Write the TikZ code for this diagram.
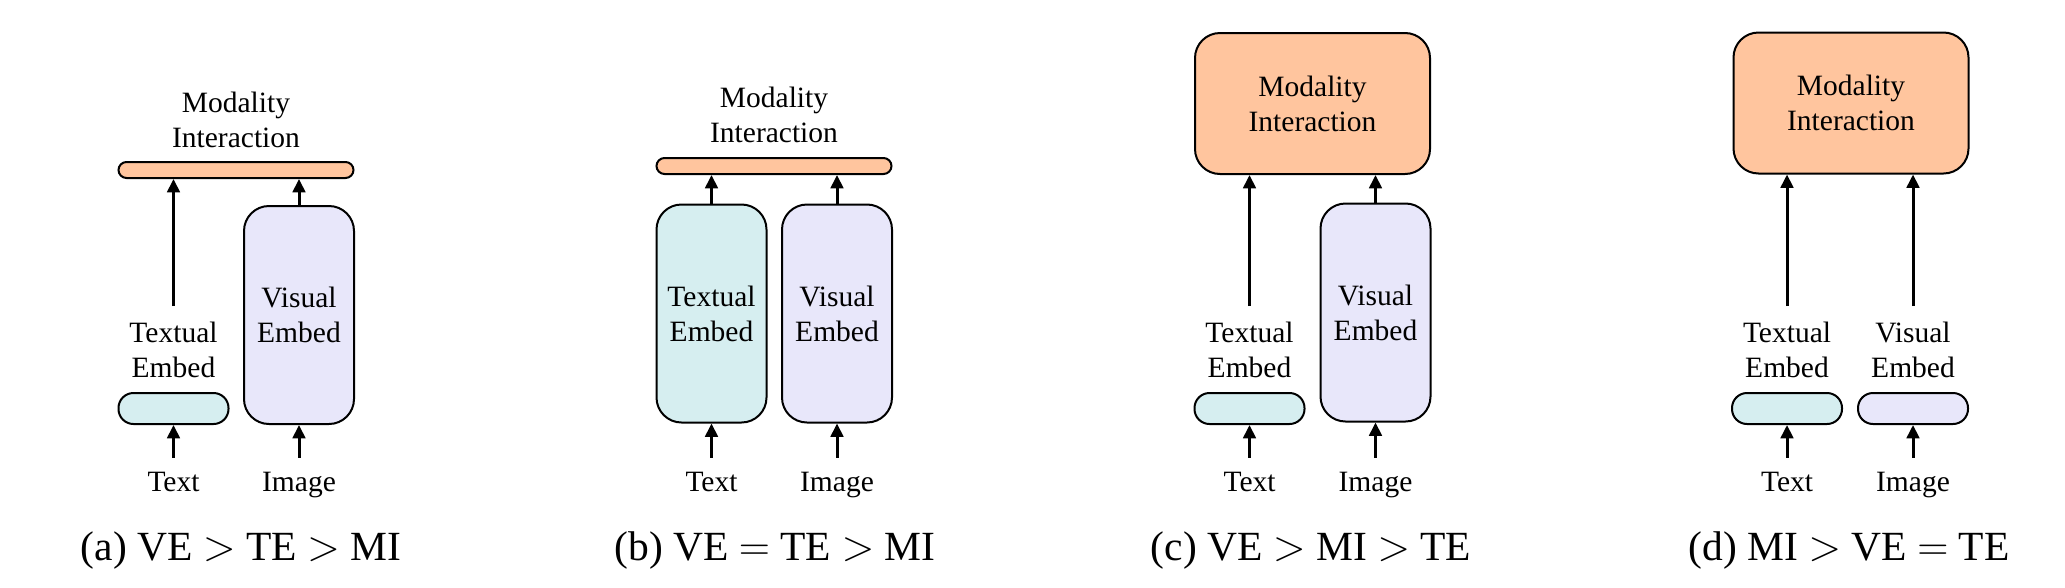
\documentclass[tikz,border=0pt]{standalone}
\usepackage{fontspec}
\setmainfont{Liberation Serif}
\usetikzlibrary{arrows.meta}

\definecolor{miorange}{RGB}{255,197,158}
\definecolor{tecyan}{RGB}{214,238,240}
\definecolor{velav}{RGB}{232,231,250}

\newcommand{\diaglbl}{\fontsize{11.8}{14}\selectfont}
\newcommand{\diagcap}{\fontsize{16.6}{19}\selectfont}

\tikzset{
  blk/.style={draw, line width=0.8pt, inner sep=0pt, align=center, font=\diaglbl},
  mibar/.style={blk, fill=miorange, minimum width=94pt, minimum height=6.4pt, rounded corners=3.2pt},
  mibox/.style={blk, fill=miorange, minimum width=94pt, minimum height=56.4pt, rounded corners=10pt},
  tepill/.style={blk, fill=tecyan, minimum width=44pt, minimum height=12.4pt, rounded corners=6pt},
  tetall/.style={blk, fill=tecyan, minimum width=44pt, minimum height=87.2pt, rounded corners=10pt},
  vepill/.style={blk, fill=velav, minimum width=44pt, minimum height=12.4pt, rounded corners=6pt},
  vetall/.style={blk, fill=velav, minimum width=44pt, minimum height=87.2pt, rounded corners=10pt},
  lbl/.style={inner sep=0pt, align=center, font=\diaglbl},
  subcap/.style={inner sep=0pt, anchor=base, font=\diagcap},
  flow/.style={line width=1.2pt, -{Triangle[length=5.3pt,width=5pt]}},
  inflow/.style={flow, shorten <=5.4pt},
  upflow/.style={flow, shorten <=6pt}
}

\begin{document}
\begin{tikzpicture}[x=0.4pt, y=-0.4pt]
  \useasboundingbox (0,0) rectangle (2065,587);

  % (a)
  \node[mibar] (a-mi) at (236,170) {};
  \node[lbl, anchor=south] (a-mil) at (236,148) {Modality\\Interaction};
  \node[tepill] (a-te) at (173.5,408.5) {};
  \node[lbl, anchor=south] (a-tel) at (173.5,378) {Textual\\Embed};
  \node[vetall] (a-ve) at (299,315) {Visual\\Embed};
  \node[lbl, anchor=base] (a-txt) at (173.5,491) {Text};
  \node[lbl, anchor=base] (a-img) at (299,491) {Image};
  \draw[inflow] (a-txt.north) -- (a-te.south);
  \draw[inflow] (a-img.north) -- (a-ve.south);
  \draw[upflow] (a-tel.north) -- (a-tel.north |- a-mi.south);
  \draw[flow] (a-ve.north) -- (a-ve.north |- a-mi.south);
  \node[subcap] (a-cap) at (241,560) {(a) VE $>$ TE $>$ MI};

  % (b)
  \begin{scope}[shift={(538,0)}]
  \node[mibar] (b-mi) at (236,166) {};
  \node[lbl, anchor=south] (b-mil) at (236,143) {Modality\\Interaction};
  \node[tetall] (b-te) at (173.5,313.5) {Textual\\Embed};
  \node[vetall] (b-ve) at (299,313.5) {Visual\\Embed};
  \node[lbl, anchor=base] (b-txt) at (173.5,491) {Text};
  \node[lbl, anchor=base] (b-img) at (299,491) {Image};
  \draw[inflow] (b-txt.north) -- (b-te.south);
  \draw[inflow] (b-img.north) -- (b-ve.south);
  \draw[flow] (b-te.north) -- (b-te.north |- b-mi.south);
  \draw[flow] (b-ve.north) -- (b-ve.north |- b-mi.south);
  \node[subcap] (b-cap) at (237,560) {(b) VE $=$ TE $>$ MI};
  \end{scope}

  % (c)
  \begin{scope}[shift={(1076,0)}]
  \node[mibox] (c-mi) at (236.5,103.5) {Modality\\Interaction};
  \node[tepill] (c-te) at (173.5,408.5) {};
  \node[lbl, anchor=south] (c-tel) at (173.5,378) {Textual\\Embed};
  \node[vetall] (c-ve) at (299.5,312.5) {Visual\\Embed};
  \node[lbl, anchor=base] (c-txt) at (173.5,491) {Text};
  \node[lbl, anchor=base] (c-img) at (299.5,491) {Image};
  \draw[inflow] (c-txt.north) -- (c-te.south);
  \draw[inflow] (c-img.north) -- (c-ve.south);
  \draw[upflow] (c-tel.north) -- (c-tel.north |- c-mi.south);
  \draw[flow] (c-ve.north) -- (c-ve.north |- c-mi.south);
  \node[subcap] (c-cap) at (235,560) {(c) VE $>$ MI $>$ TE};
  \end{scope}

  % (d)
  \begin{scope}[shift={(1614,0)}]
  \node[mibox] (d-mi) at (237,103) {Modality\\Interaction};
  \node[tepill] (d-te) at (173,408.5) {};
  \node[lbl, anchor=south] (d-tel) at (173,378) {Textual\\Embed};
  \node[vepill] (d-ve) at (299,408.5) {};
  \node[lbl, anchor=south] (d-vel) at (299,378) {Visual\\Embed};
  \node[lbl, anchor=base] (d-txt) at (173,491) {Text};
  \node[lbl, anchor=base] (d-img) at (299,491) {Image};
  \draw[inflow] (d-txt.north) -- (d-te.south);
  \draw[inflow] (d-img.north) -- (d-ve.south);
  \draw[upflow] (d-tel.north) -- (d-tel.north |- d-mi.south);
  \draw[upflow] (d-vel.north) -- (d-vel.north |- d-mi.south);
  \node[subcap] (d-cap) at (235,560) {(d) MI $>$ VE $=$ TE};
  \end{scope}
\end{tikzpicture}
\end{document}
